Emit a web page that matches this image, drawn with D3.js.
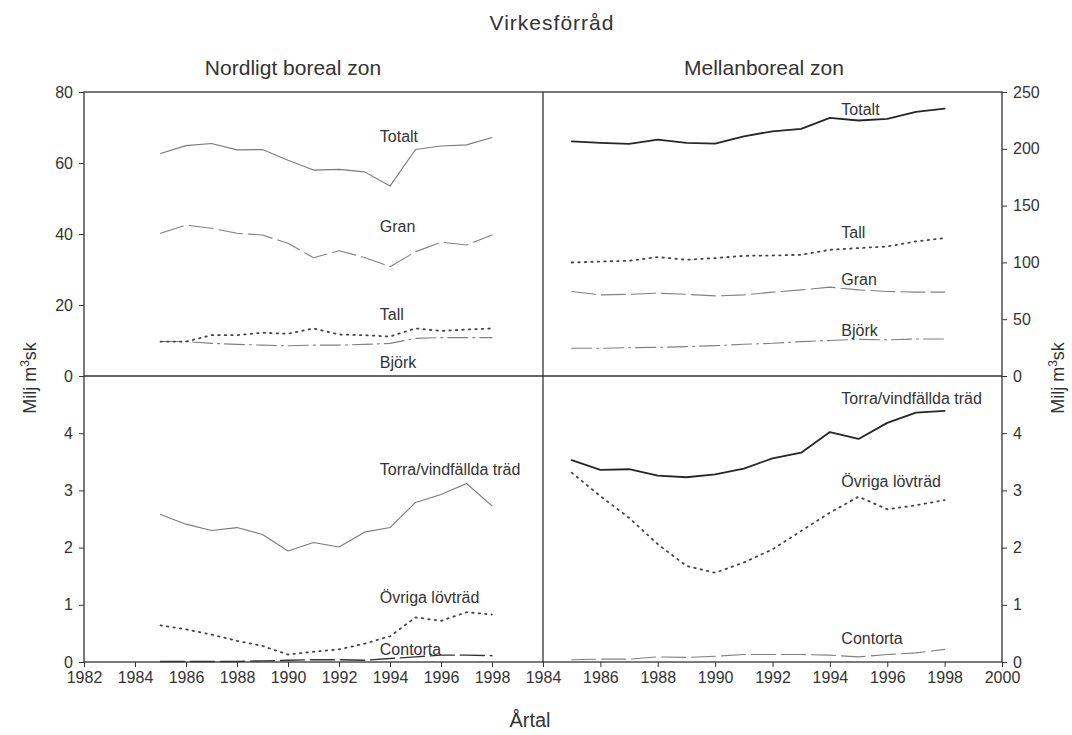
<!DOCTYPE html>
<html>
<head>
<meta charset="utf-8">
<script src="https://cdn.jsdelivr.net/npm/d3@7"></script>
<style>
  body { margin: 0; background: #fff; }
  svg text { font-family: "Liberation Sans", Arial, sans-serif; fill: #333; }
</style>
</head>
<body>
<svg class="chart"></svg>
<script>
const size = {w: 1072, h: 735};

// years with data
const years = [1985, 1986, 1987, 1988, 1989, 1990, 1991, 1992, 1993, 1994, 1995, 1996, 1997, 1998];

// Nordligt boreal zon, top (milj m3sk)
const nordTotalt = [62.7, 64.9, 65.5, 63.7, 63.8, 60.8, 58.0, 58.2, 57.5, 53.5, 63.8, 64.8, 65.1, 67.2];
const nordGran   = [40.2, 42.5, 41.6, 40.2, 39.7, 37.4, 33.3, 35.3, 33.4, 30.8, 35.0, 37.7, 36.9, 39.7];
const nordTall   = [9.7, 9.7, 11.5, 11.5, 12.2, 11.9, 13.4, 11.7, 11.5, 11.1, 13.4, 12.7, 13.1, 13.4];
const nordBjork  = [9.7, 9.7, 9.2, 8.9, 8.7, 8.5, 8.7, 8.7, 8.9, 9.2, 10.6, 10.8, 10.8, 10.8];
// Nordligt boreal zon, bottom
const nordTorra    = [2.58, 2.41, 2.30, 2.35, 2.23, 1.94, 2.09, 2.01, 2.27, 2.35, 2.79, 2.93, 3.12, 2.73];
const nordOvriga   = [0.64, 0.57, 0.48, 0.37, 0.28, 0.13, 0.18, 0.22, 0.32, 0.45, 0.78, 0.72, 0.87, 0.83];
const nordContorta = [0.01, 0.01, 0.01, 0.01, 0.02, 0.03, 0.04, 0.04, 0.03, 0.06, 0.09, 0.12, 0.12, 0.11];

// Mellanboreal zon, top
const mellTotalt = [206.6, 205.2, 204.3, 208.1, 205.2, 204.6, 211.0, 215.4, 217.5, 227.2, 224.9, 226.3, 232.5, 235.4];
const mellTall   = [99.9, 100.8, 101.4, 104.7, 102.3, 103.8, 105.8, 106.1, 106.7, 111.1, 112.6, 114.0, 118.4, 121.4];
const mellGran   = [74.4, 71.4, 71.9, 72.9, 71.9, 70.5, 71.4, 73.8, 75.8, 78.2, 75.8, 74.4, 73.8, 73.8];
const mellBjork  = [24.4, 24.4, 24.9, 25.2, 25.9, 26.7, 27.9, 28.8, 30.3, 31.2, 32.3, 31.8, 32.6, 32.6];
// Mellanboreal zon, bottom
const mellTorra    = [3.53, 3.36, 3.37, 3.26, 3.23, 3.28, 3.38, 3.56, 3.66, 4.02, 3.90, 4.18, 4.36, 4.39];
const mellOvriga   = [3.31, 2.90, 2.52, 2.06, 1.68, 1.56, 1.74, 1.97, 2.29, 2.61, 2.89, 2.67, 2.74, 2.83];
const mellContorta = [0.04, 0.05, 0.05, 0.09, 0.08, 0.10, 0.13, 0.13, 0.13, 0.12, 0.09, 0.13, 0.16, 0.22];

// tick labels
const xTicksLeft  = [1982, 1984, 1986, 1988, 1990, 1992, 1994, 1996, 1998];
const xTicksRight = [1984, 1986, 1988, 1990, 1992, 1994, 1996, 1998, 2000];
const yTicksTopLeft  = [0, 20, 40, 60, 80];
const yTicksTopRight = [0, 50, 100, 150, 200, 250];
const yTicksBottom   = [0, 1, 2, 3, 4];

const frame = {left: 84, mid: 543, right: 1002, top: 92, midY: 376, bottom: 662};

const svg = d3.select('svg.chart')
    .attr('width', size.w)
    .attr('height', size.h);

// scales
const xL = d3.scaleLinear().domain([1982, 2000]).range([frame.left, frame.mid]);
const xR = d3.scaleLinear().domain([1984, 2000]).range([frame.mid, frame.right]);
const yTL = d3.scaleLinear().domain([0, 80]).range([frame.midY, frame.top]);
const yTR = d3.scaleLinear().domain([0, 250]).range([frame.midY, frame.top]);
const yB = d3.scaleLinear().domain([0, 5]).range([frame.bottom, frame.midY]);

// line styles
const styles = {
    grey:    {stroke: '#7a7a7a', width: 1.1, dash: null},
    dark:    {stroke: '#262626', width: 1.8, dash: null},
    dotted:  {stroke: '#444', width: 1.8, dash: '1.5,5'},
    longDash:{stroke: '#808080', width: 1.1, dash: '24,6'},
    dashDot: {stroke: '#808080', width: 1.1, dash: '20,5,2,5'}
};

function drawSeries(g, xs, ys, values, st) {
    const line = d3.line()
        .x((d, i) => xs(years[i]))
        .y(d => ys(d));
    g.append('path')
        .datum(values)
        .attr('d', line)
        .attr('fill', 'none')
        .attr('stroke', st.stroke)
        .attr('stroke-width', st.width)
        .attr('stroke-linecap', 'round')
        .attr('stroke-linejoin', 'round')
        .attr('stroke-dasharray', st.dash);
}

const linesG = svg.append('g').classed('lines', true);

drawSeries(linesG, xL, yTL, nordTotalt, styles.grey);
drawSeries(linesG, xL, yTL, nordGran, styles.longDash);
drawSeries(linesG, xL, yTL, nordBjork, styles.dashDot);
drawSeries(linesG, xL, yTL, nordTall, styles.dotted);
drawSeries(linesG, xL, yB, nordTorra, styles.grey);
drawSeries(linesG, xL, yB, nordOvriga, styles.dotted);
drawSeries(linesG, xL, yB, nordContorta, {stroke: '#333', width: 1.4, dash: '24,6'});

drawSeries(linesG, xR, yTR, mellTotalt, styles.dark);
drawSeries(linesG, xR, yTR, mellTall, styles.dotted);
drawSeries(linesG, xR, yTR, mellGran, styles.longDash);
drawSeries(linesG, xR, yTR, mellBjork, styles.dashDot);
drawSeries(linesG, xR, yB, mellTorra, styles.dark);
drawSeries(linesG, xR, yB, mellOvriga, styles.dotted);
drawSeries(linesG, xR, yB, mellContorta, styles.longDash);

// series labels
const labelG = svg.append('g').classed('labels', true)
    .style('font-size', '16px');

function label(text, x, y) {
    labelG.append('text')
        .attr('x', x).attr('y', y)
        .text(text);
}
label('Totalt', xL(1993.6), yTL(65.9));
label('Gran', xL(1993.6), yTL(40.6));
label('Tall', xL(1993.6), yTL(15.8));
label('Björk', xL(1993.6), yTL(2.3));
label('Torra/vindfällda träd', xL(1993.6), yB(3.27));
label('Övriga lövträd', xL(1993.6), yB(1.03));
label('Contorta', xL(1993.6), yB(0.12));

label('Totalt', xR(1994.4), yTR(229.8));
label('Tall', xR(1994.4), yTR(121.5));
label('Gran', xR(1994.4), yTR(80.1));
label('Björk', xR(1994.4), yTR(35.2));
label('Torra/vindfällda träd', xR(1994.4), yB(4.51));
label('Övriga lövträd', xR(1994.4), yB(3.06));
label('Contorta', xR(1994.4), yB(0.31));

// axes
function styleAxis(g) {
    g.select('.domain').remove();
    g.selectAll('line').attr('stroke', '#333');
    g.selectAll('text').style('font-size', '16px').attr('fill', '#333');
}

const fmt = d3.format('d');

svg.append('g')
    .attr('transform', `translate(${frame.left},0)`)
    .call(d3.axisLeft(yTL).tickValues(yTicksTopLeft).tickFormat(fmt).tickSize(5).tickPadding(6))
    .call(styleAxis);
svg.append('g')
    .attr('transform', `translate(${frame.left},0)`)
    .call(d3.axisLeft(yB).tickValues(yTicksBottom).tickFormat(fmt).tickSize(5).tickPadding(6))
    .call(styleAxis);
svg.append('g')
    .attr('transform', `translate(${frame.right},0)`)
    .call(d3.axisRight(yTR).tickValues(yTicksTopRight).tickFormat(fmt).tickSize(5).tickPadding(6))
    .call(styleAxis);
svg.append('g')
    .attr('transform', `translate(${frame.right},0)`)
    .call(d3.axisRight(yB).tickValues(yTicksBottom).tickFormat(fmt).tickSize(5).tickPadding(6))
    .call(styleAxis);
svg.append('g')
    .attr('transform', `translate(0,${frame.bottom})`)
    .call(d3.axisBottom(xL).tickValues(xTicksLeft).tickFormat(fmt).tickSize(5).tickPadding(5))
    .call(styleAxis);
svg.append('g')
    .attr('transform', `translate(0,${frame.bottom})`)
    .call(d3.axisBottom(xR).tickValues(xTicksRight).tickFormat(fmt).tickSize(5).tickPadding(5))
    .call(styleAxis);

// frame lines
const frameG = svg.append('g').attr('stroke', '#333').attr('stroke-width', 1.3);
frameG.append('rect')
    .attr('x', frame.left).attr('y', frame.top)
    .attr('width', frame.right - frame.left).attr('height', frame.bottom - frame.top)
    .attr('fill', 'none');
frameG.append('line')
    .attr('x1', frame.left).attr('x2', frame.right)
    .attr('y1', frame.midY).attr('y2', frame.midY);
frameG.append('line')
    .attr('x1', frame.mid).attr('x2', frame.mid)
    .attr('y1', frame.top).attr('y2', frame.bottom);

// titles
svg.append('text')
    .attr('x', 552).attr('y', 30)
    .attr('text-anchor', 'middle')
    .style('font-size', '21px')
    .style('letter-spacing', '1px')
    .text('Virkesförråd');
svg.append('text')
    .attr('x', 293).attr('y', 75)
    .attr('text-anchor', 'middle')
    .style('font-size', '21px')
    .text('Nordligt boreal zon');
svg.append('text')
    .attr('x', 764).attr('y', 75)
    .attr('text-anchor', 'middle')
    .style('font-size', '21px')
    .text('Mellanboreal zon');
svg.append('text')
    .attr('x', 530).attr('y', 727)
    .attr('text-anchor', 'middle')
    .style('font-size', '20px')
    .text('Årtal');

// y axis titles with superscript
function yTitle(x) {
    const t = svg.append('text')
        .attr('transform', `translate(${x},378) rotate(-90)`)
        .attr('text-anchor', 'middle')
        .style('font-size', '18px');
    t.append('tspan').text('Milj m');
    t.append('tspan').attr('dy', -7).style('font-size', '12px').text('3');
    t.append('tspan').attr('dy', 7).text('sk');
}
yTitle(36);
yTitle(1064);
</script>
</body>
</html>
